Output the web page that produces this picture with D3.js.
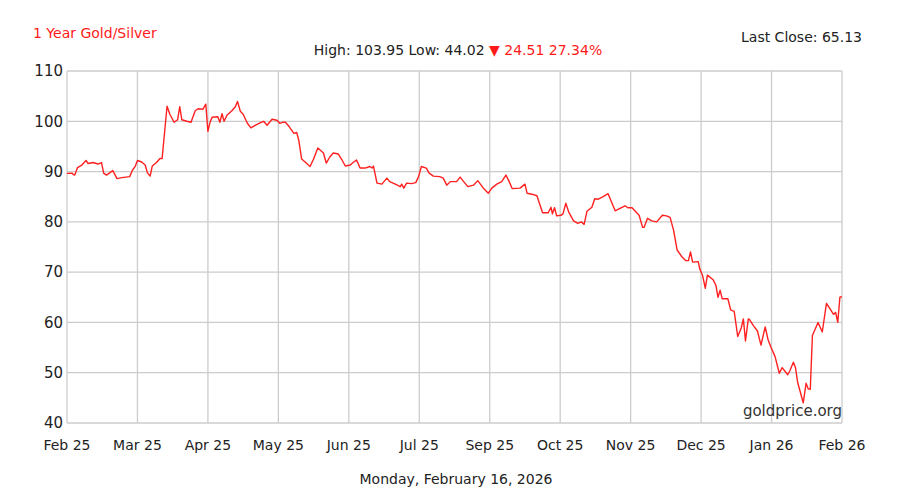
<!DOCTYPE html>
<html>
<head>
<meta charset="utf-8">
<script src="https://cdn.jsdelivr.net/npm/d3@7"></script>
<style>
  body { margin: 0; background: #fff; }
  text { font-family: "DejaVu Sans", Verdana, sans-serif; }
</style>
</head>
<body>
<script>
// month tick labels (evenly spaced, as on the original chart)
var monthLabels = ["Feb 25", "Mar 25", "Apr 25", "May 25", "Jun 25", "Jul 25",
                   "Sep 25", "Oct 25", "Nov 25", "Dec 25", "Jan 26", "Feb 26"];
var yTicks = [40, 50, 60, 70, 80, 90, 100, 110];

// position along the month axis (0 = Feb 25 ... 11 = Feb 26)
var pos = [
  0.00, 0.07, 0.09, 0.11, 0.15, 0.21, 0.27, 0.30, 0.37, 0.44, 0.49, 0.52, 0.56, 0.65, 0.71, 0.78, 0.89, 0.93, 0.97,
  1.00, 1.06, 1.11, 1.14, 1.18, 1.21, 1.27, 1.32, 1.35, 1.42, 1.46, 1.52, 1.57, 1.60, 1.63, 1.70, 1.76, 1.82, 1.86, 1.93, 1.97,
  2.00, 2.03, 2.06, 2.14, 2.17, 2.20, 2.23, 2.27, 2.34, 2.39, 2.42, 2.46, 2.50, 2.56, 2.61, 2.67, 2.74, 2.79, 2.84, 2.91, 2.98,
  3.02, 3.06, 3.10, 3.15, 3.22, 3.26, 3.29, 3.33, 3.38, 3.45, 3.50, 3.56, 3.64, 3.68, 3.73, 3.78, 3.85, 3.90, 3.95,
  4.02, 4.06, 4.11, 4.16, 4.23, 4.30, 4.33, 4.35, 4.40, 4.47, 4.54, 4.58, 4.66, 4.73, 4.75, 4.78, 4.82, 4.89, 4.95, 4.99,
  5.03, 5.10, 5.14, 5.20, 5.29, 5.34, 5.39, 5.44, 5.53, 5.58, 5.63, 5.69, 5.77, 5.83, 5.91, 5.98,
  6.03, 6.10, 6.17, 6.23, 6.27, 6.32, 6.43, 6.50, 6.53, 6.60, 6.67, 6.75, 6.83, 6.87, 6.89, 6.92, 6.95,
  7.01, 7.04, 7.08, 7.12, 7.19, 7.25, 7.30, 7.34, 7.38, 7.45, 7.49, 7.54, 7.61, 7.68, 7.78, 7.85, 7.92, 7.96,
  8.02, 8.06, 8.12, 8.17, 8.19, 8.24, 8.30, 8.37, 8.45, 8.51, 8.56, 8.61, 8.66, 8.73, 8.78, 8.82, 8.85, 8.88, 8.96, 8.98,
  9.02, 9.06, 9.09, 9.17, 9.21, 9.24, 9.27, 9.30, 9.38, 9.42, 9.47, 9.52, 9.57, 9.60, 9.63, 9.67, 9.69, 9.74, 9.80, 9.85, 9.91, 9.95, 9.99,
  10.05, 10.11, 10.15, 10.23, 10.26, 10.31, 10.34, 10.37, 10.45, 10.49, 10.52, 10.55, 10.58, 10.66, 10.72, 10.77, 10.78, 10.88, 10.91, 10.94, 10.97,
  11.00
];

// gold / silver ratio
var ratio = [
  89.64, 89.7, 89.4, 89.3, 90.8, 91.3, 92.2, 91.6, 91.8, 91.5, 91.8, 89.7, 89.3, 90.2, 88.6, 88.8, 89.0, 90.3, 91.1,
  92.2, 91.9, 91.3, 89.8, 89.1, 91.1, 91.8, 92.6, 92.6, 103.0, 101.4, 99.8, 100.3, 102.9, 100.3, 100.0, 99.8, 102.1, 102.5, 102.4, 103.4,
  98.0, 99.8, 100.8, 100.9, 99.8, 101.5, 100.0, 101.2, 102.1, 102.9, 103.95, 102.0, 101.4, 99.6, 98.7, 99.2, 99.7, 100.0, 99.2, 100.4, 100.2,
  99.6, 99.8, 99.8, 99.0, 97.6, 97.8, 96.2, 92.5, 91.9, 91.0, 92.5, 94.7, 93.7, 91.7, 92.9, 93.7, 93.5, 92.4, 91.1,
  91.3, 91.8, 92.3, 90.7, 90.7, 91.0, 90.7, 91.1, 87.7, 87.5, 88.7, 88.0, 87.5, 87.0, 87.5, 86.7, 87.7, 87.6, 87.8, 89.0,
  91.0, 90.7, 89.7, 89.1, 89.0, 88.7, 87.3, 88.0, 88.0, 88.9, 88.0, 87.0, 87.3, 88.2, 86.7, 85.7,
  86.7, 87.5, 88.0, 89.3, 88.2, 86.6, 86.7, 87.5, 85.7, 85.5, 85.2, 81.8, 81.8, 82.9, 81.6, 82.8, 81.2,
  81.3, 81.6, 83.7, 82.0, 80.2, 79.7, 80.0, 79.5, 82.1, 82.9, 84.6, 84.5, 85.0, 85.6, 82.2, 82.7, 83.2, 82.8,
  82.8, 82.2, 81.3, 78.9, 78.9, 80.7, 80.2, 80.0, 81.3, 81.2, 80.9, 78.3, 74.4, 73.0, 72.3, 72.3, 74.0, 72.0, 72.1, 70.7,
  69.4, 66.8, 69.4, 68.5, 67.4, 65.0, 66.4, 64.7, 64.7, 62.5, 62.2, 57.2, 58.9, 60.7, 56.3, 60.7, 60.5, 59.4, 58.3, 55.5, 59.1, 56.6, 55.1,
  53.2, 49.9, 51.0, 49.6, 50.4, 52.1, 51.0, 48.1, 44.02, 47.9, 46.8, 46.7, 57.4, 60.0, 58.1, 62.9, 63.8, 61.6, 62.0, 60.0, 65.0,
  65.13
];

function drawChart(){
  var width = 900, height = 500;
  var margin = {top: 71, right: 58, bottom: 77, left: 67};
  var w = width - margin.left - margin.right,
      h = height - margin.top - margin.bottom;

  var svg = d3.select("body").append("svg")
      .attr("width", width)
      .attr("height", height);

  var x = d3.scaleLinear().domain([0, monthLabels.length - 1]).range([0, w]);
  var y = d3.scaleLinear().domain([40, 110]).range([h, 0]);

  var g = svg.append("g")
      .attr("transform", "translate(" + margin.left + "," + margin.top + ")");

  // vertical grid
  g.selectAll(".vgrid")
      .data(monthLabels)
    .enter().append("line")
      .attr("x1", function(d, i) { return x(i); })
      .attr("x2", function(d, i) { return x(i); })
      .attr("y1", 0)
      .attr("y2", h)
      .attr("stroke", "#cccccc")
      .attr("stroke-width", 1.3);

  // horizontal grid
  g.selectAll(".hgrid")
      .data(yTicks)
    .enter().append("line")
      .attr("x1", 0)
      .attr("x2", w)
      .attr("y1", function(d) { return y(d); })
      .attr("y2", function(d) { return y(d); })
      .attr("stroke", "#cccccc")
      .attr("stroke-width", 1.3);

  // y labels
  g.selectAll(".ylab")
      .data(yTicks)
    .enter().append("text")
      .attr("x", -4)
      .attr("y", function(d) { return y(d); })
      .attr("dy", "0.35em")
      .attr("text-anchor", "end")
      .style("font-size", "15px")
      .style("fill", "#222")
      .text(function(d) { return d; });

  // x labels
  g.selectAll(".xlab")
      .data(monthLabels)
    .enter().append("text")
      .attr("x", function(d, i) { return x(i); })
      .attr("y", h + 27)
      .attr("text-anchor", "middle")
      .style("font-size", "14px")
      .style("fill", "#222")
      .text(function(d) { return d; });

  // the ratio line
  var pts = pos.map(function(p, i) { return [p, ratio[i]]; });
  var line = d3.line()
      .x(function(d) { return x(d[0]); })
      .y(function(d) { return y(d[1]); });

  g.append("path")
      .datum(pts)
      .attr("fill", "none")
      .attr("stroke", "#ff2020")
      .attr("stroke-width", 1.4)
      .attr("stroke-linejoin", "round")
      .attr("d", line);

  // watermark
  g.append("text")
      .attr("x", w)
      .attr("y", h - 7)
      .attr("text-anchor", "end")
      .style("font-size", "15px")
      .style("fill", "#333")
      .text("goldprice.org");

  // header texts
  svg.append("text")
      .attr("x", 33)
      .attr("y", 38)
      .style("font-size", "14px")
      .style("fill", "#ff1a1a")
      .text("1 Year Gold/Silver");

  svg.append("text")
      .attr("x", 862)
      .attr("y", 42)
      .attr("text-anchor", "end")
      .style("font-size", "14px")
      .style("fill", "#222")
      .text("Last Close: 65.13");

  var hl = svg.append("text")
      .attr("x", 458)
      .attr("y", 55)
      .attr("text-anchor", "middle")
      .style("font-size", "14px")
      .style("fill", "#222");
  hl.append("tspan").text("High: 103.95 Low: 44.02 ");
  hl.append("tspan").style("fill", "#ff1a1a").text("\u25BC 24.51 27.34%");

  svg.append("text")
      .attr("x", 456)
      .attr("y", 484)
      .attr("text-anchor", "middle")
      .style("font-size", "14px")
      .style("fill", "#222")
      .text("Monday, February 16, 2026");
}

drawChart();
</script>
</body>
</html>
